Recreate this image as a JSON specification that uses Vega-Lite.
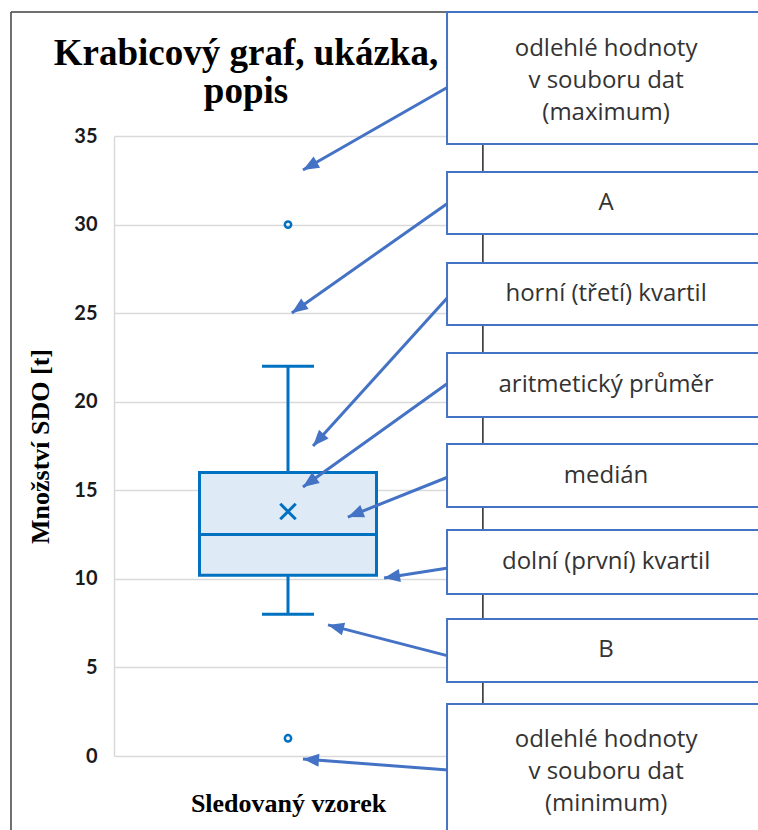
{
  "$schema": "https://vega.github.io/schema/vega-lite/v6.json",
  "autosize": "none",
  "width": 348,
  "height": 620,
  "padding": {"left": 114, "top": 136, "right": 296, "bottom": 74},
  "background": "white",
  "config": {"view": {"stroke": null}},
  "title": {
    "text": ["Krabicový graf, ukázka,", "popis"],
    "font": "Liberation Serif",
    "fontSize": 37,
    "fontWeight": "bold",
    "color": "#000000",
    "anchor": "middle",
    "frame": "group",
    "baseline": "bottom",
    "lineHeight": 38,
    "dx": -42,
    "offset": -137
  },
  "datasets": {
    "stats": [
      {"vzorek": "Sledovaný vzorek", "minimum": 8, "q1": 10.2, "median": 12.5, "mean": 13.8, "q3": 16, "maximum": 22}
    ],
    "outliers": [
      {"vzorek": "Sledovaný vzorek", "hodnota": 30},
      {"vzorek": "Sledovaný vzorek", "hodnota": 1}
    ],
    "callouts": [
      {"id": 1, "popis": "odlehlé hodnoty\nv souboru dat\n(maximum)", "horni": 42.0, "dolni": 34.55, "textY": 39.91, "start": 37.77, "cilX": 0.543, "cilY": 33.08},
      {"id": 2, "popis": "A", "horni": 32.97, "dolni": 29.47, "textY": 31.22, "start": 31.22, "cilX": 0.511, "cilY": 25.01},
      {"id": 3, "popis": "horní (třetí) kvartil", "horni": 27.83, "dolni": 24.33, "textY": 26.08, "start": 25.91, "cilX": 0.572, "cilY": 17.5},
      {"id": 4, "popis": "aritmetický průměr", "horni": 22.75, "dolni": 19.14, "textY": 20.94, "start": 21.06, "cilX": 0.543, "cilY": 15.19},
      {"id": 5, "popis": "medián", "horni": 17.61, "dolni": 14.06, "textY": 15.83, "start": 15.75, "cilX": 0.672, "cilY": 13.49},
      {"id": 6, "popis": "dolní (první) kvartil", "horni": 12.76, "dolni": 9.145, "textY": 10.95, "start": 10.61, "cilX": 0.776, "cilY": 10.05},
      {"id": 7, "popis": "B", "horni": 7.73, "dolni": 4.18, "textY": 5.96, "start": 5.65, "cilX": 0.615, "cilY": 7.4},
      {"id": 8, "popis": "odlehlé hodnoty\nv souboru dat\n(minimum)", "horni": 2.94, "dolni": -6, "textY": 0.9, "start": -0.79, "cilX": 0.543, "cilY": -0.17}
    ]
  },
  "layer": [
    {
      "layer": [
        {
          "data": {"name": "stats"},
          "mark": {"type": "bar", "width": 177, "fill": "#DEEBF7", "stroke": "#0070C0", "strokeWidth": 3},
          "encoding": {
            "x": {
              "field": "vzorek", "type": "nominal",
              "axis": {"title": "Sledovaný vzorek", "labels": false, "ticks": false, "domain": false, "grid": false,
                       "titleFont": "Liberation Serif", "titleFontSize": 26, "titleFontWeight": "bold", "titleColor": "#000000", "titlePadding": 34}
            },
            "y": {
              "field": "q1", "type": "quantitative",
              "scale": {"domain": [0, 35], "nice": false, "zero": false},
              "axis": {
                "values": [0, 5, 10, 15, 20, 25, 30, 35],
                "title": "Množství SDO [t]",
                "titleFont": "Liberation Serif", "titleFontSize": 26, "titleFontWeight": "bold", "titleColor": "#000000", "titlePadding": 20,
                "labelFont": "Lato", "labelFontSize": 20, "labelFontWeight": "bold", "labelColor": "#1a1a1a", "labelPadding": 17,
                "ticks": false, "domain": true, "domainColor": "#d9d9d9", "domainWidth": 1.5,
                "grid": true, "gridColor": "#d9d9d9", "gridWidth": 1.5
              }
            },
            "y2": {"field": "q3"}
          }
        },
        {
          "data": {"name": "stats"},
          "mark": {"type": "rule", "color": "#0070C0", "strokeWidth": 3},
          "encoding": {
            "x": {"field": "vzorek", "type": "nominal"},
            "y": {"field": "minimum", "type": "quantitative"},
            "y2": {"field": "q1"}
          }
        },
        {
          "data": {"name": "stats"},
          "mark": {"type": "rule", "color": "#0070C0", "strokeWidth": 3},
          "encoding": {
            "x": {"field": "vzorek", "type": "nominal"},
            "y": {"field": "q3", "type": "quantitative"},
            "y2": {"field": "maximum"}
          }
        },
        {
          "data": {"name": "stats"},
          "mark": {"type": "tick", "color": "#0070C0", "thickness": 3, "size": 52, "opacity": 1},
          "encoding": {
            "x": {"field": "vzorek", "type": "nominal"},
            "y": {"field": "minimum", "type": "quantitative"}
          }
        },
        {
          "data": {"name": "stats"},
          "mark": {"type": "tick", "color": "#0070C0", "thickness": 3, "size": 52, "opacity": 1},
          "encoding": {
            "x": {"field": "vzorek", "type": "nominal"},
            "y": {"field": "maximum", "type": "quantitative"}
          }
        },
        {
          "data": {"name": "stats"},
          "mark": {"type": "tick", "color": "#0070C0", "thickness": 3, "size": 177, "opacity": 1},
          "encoding": {
            "x": {"field": "vzorek", "type": "nominal"},
            "y": {"field": "median", "type": "quantitative"}
          }
        },
        {
          "data": {"name": "stats"},
          "mark": {"type": "point", "shape": "M-1,-1L1,1M-1,1L1,-1", "filled": false, "stroke": "#0070C0", "strokeWidth": 3, "size": 240, "opacity": 1},
          "encoding": {
            "x": {"field": "vzorek", "type": "nominal"},
            "y": {"field": "mean", "type": "quantitative"}
          }
        },
        {
          "data": {"name": "outliers"},
          "mark": {"type": "point", "shape": "circle", "filled": false, "stroke": "#0070C0", "strokeWidth": 2.5, "size": 40, "opacity": 1},
          "encoding": {
            "x": {"field": "vzorek", "type": "nominal"},
            "y": {"field": "hodnota", "type": "quantitative"}
          }
        }
      ]
    },
    {
      "layer": [
        {
          "data": {"name": "callouts"},
          "mark": {"type": "rule", "color": "#4472C4", "strokeWidth": 3},
          "encoding": {
            "x": {"field": "cilX", "type": "quantitative", "scale": {"domain": [0, 1], "nice": false, "zero": false}, "axis": null},
            "x2": {"datum": 0.96},
            "y": {"field": "cilY", "type": "quantitative"},
            "y2": {"field": "start"}
          }
        },
        {
          "data": {"values": [{}]},
          "mark": {"type": "rule", "color": "#404040", "strokeWidth": 1.5},
          "encoding": {
            "x": {"datum": -0.296, "type": "quantitative"},
            "y": {"datum": 42.0, "type": "quantitative"},
            "y2": {"datum": -6}
          }
        },
        {
          "data": {"values": [{}]},
          "mark": {"type": "rule", "color": "#404040", "strokeWidth": 1.5},
          "encoding": {
            "x": {"datum": -0.296, "type": "quantitative"},
            "x2": {"datum": 0.96},
            "y": {"datum": 42.0, "type": "quantitative"}
          }
        },
        {
          "data": {"values": [{}]},
          "mark": {"type": "rule", "color": "#262626", "strokeWidth": 1.5},
          "encoding": {
            "x": {"datum": 1.06, "type": "quantitative"},
            "y": {"datum": 42.0, "type": "quantitative"},
            "y2": {"datum": -6}
          }
        },
        {
          "data": {"name": "callouts"},
          "mark": {"type": "rect", "fill": "white", "stroke": "#4472C4", "strokeWidth": 2},
          "encoding": {
            "x": {"datum": 0.957, "type": "quantitative"},
            "x2": {"datum": 2.5},
            "y": {"field": "horni", "type": "quantitative"},
            "y2": {"field": "dolni"}
          }
        },
        {
          "data": {"name": "callouts"},
          "mark": {"type": "text", "font": "Open Sans", "fontSize": 24, "color": "#333333", "align": "center", "baseline": "middle", "lineBreak": "\n", "lineHeight": 32},
          "encoding": {
            "x": {"datum": 1.414, "type": "quantitative"},
            "y": {"field": "textY", "type": "quantitative"},
            "text": {"field": "popis", "type": "nominal"}
          }
        },
        {
          "data": {"name": "callouts"},
          "mark": {"type": "point", "shape": "M0,0L-0.65,1.6L0.65,1.6Z", "filled": true, "color": "#4472C4", "size": 400, "opacity": 1, "strokeWidth": 0},
          "encoding": {
            "x": {"field": "cilX", "type": "quantitative"},
            "y": {"field": "cilY", "type": "quantitative"},
            "angle": {
              "field": "id", "type": "quantitative", "legend": null,
              "scale": {"domain": [1, 2, 3, 4, 5, 6, 7, 8], "range": [-119.8, -125.2, -137.8, -125.6, -111.8, -98.9, -75.5, -85.7]}
            }
          }
        }
      ]
    }
  ],
  "resolve": {"scale": {"x": "independent"}, "axis": {"x": "independent"}}
}
